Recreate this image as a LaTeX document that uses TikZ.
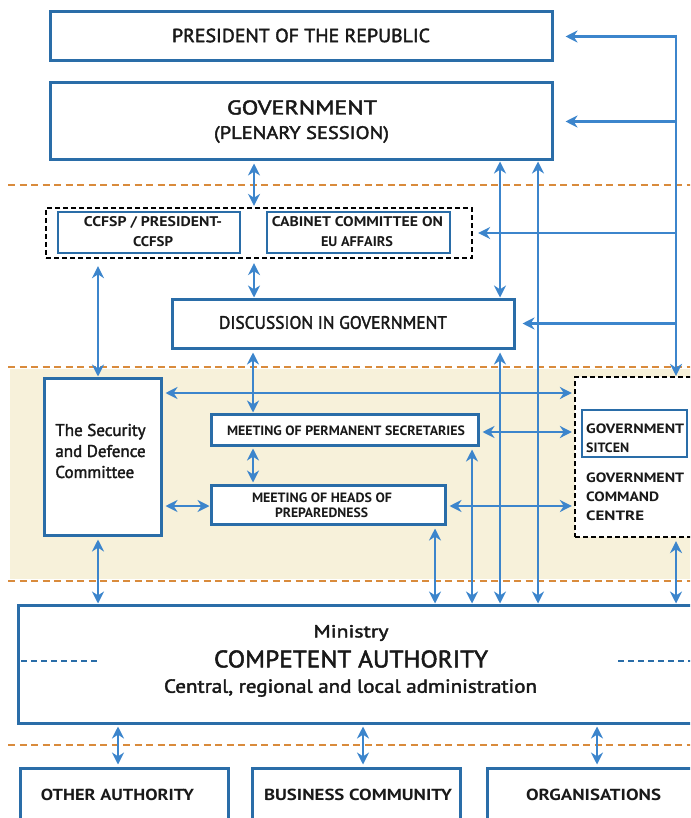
\documentclass[tikz,border=0pt]{standalone}
\usepackage{fontspec}
\setmainfont{PT Sans}
\newfontfamily\semib[FakeBold=2]{PT Sans}
\usepackage{graphicx}
\usetikzlibrary{arrows.meta}
\definecolor{boxblue}{HTML}{2A6DA8}
\definecolor{arrblue}{HTML}{3C85CC}
\definecolor{orng}{HTML}{D98B3C}
\definecolor{beige}{HTML}{F7F1DA}
\newcommand{\fw}[3]{\resizebox{#1pt}{\height}{\fontsize{#2}{#2}\selectfont #3}}
\tikzset{
  box/.style={draw=boxblue, line width=3pt, fill=white, inner sep=0pt},
  grpbox/.style={draw=black, line width=2.2pt, dash pattern=on 5pt off 3pt, inner sep=0pt},
  sep/.style={draw=orng, line width=2.6pt, dash pattern=on 7pt off 4.5pt},
  arr/.style={draw=arrblue, line width=2.2pt, {Stealth[length=12pt,width=12pt]}-{Stealth[length=12pt,width=12pt]}},
  arrone/.style={draw=arrblue, line width=2.2pt, -{Stealth[length=12pt,width=12pt]}},
  lbl/.style={inner sep=0pt, text=black!90},
}
\begin{document}
\begin{tikzpicture}[x=1pt,y=-1pt]
\useasboundingbox (0,0) rectangle (690,818);
\clip (0,0) rectangle (690,818);
% background band and separators
\fill[beige] (10,369) rectangle (700,579);
\draw[sep] (8,185) -- (700,185);
\draw[sep] (8,367) -- (700,367);
\draw[sep] (8,581) -- (700,581);
\draw[sep] (8,745) -- (700,745);

% boxes
\node[box, minimum width=502pt, minimum height=49pt] (pres) at (301,36.5) {};
\node[lbl] at (301,35.5) {\fw{258}{19}{\semib PRESIDENT OF THE REPUBLIC}};
\node[box, minimum width=502pt, minimum height=77pt] (gov) at (301,121.5) {};
\node[lbl] at (302,107.5) {\fw{150}{20}{\semib GOVERNMENT}};
\node[lbl] at (301.5,134.5) {\fw{175}{18}{\semib (PLENARY SESSION)}};

\node[grpbox, minimum width=426pt, minimum height=50pt] (grp) at (259,233) {};
\node[box, line width=2.4pt, minimum width=182pt, minimum height=41pt] (ccfsp) at (149,232.5) {};
\node[lbl] at (153,222) {\fw{138}{14}{\bfseries CCFSP / PRESIDENT-}};
\node[lbl] at (153,241.5) {\fw{40}{14}{\bfseries CCFSP}};
\node[box, line width=2.4pt, minimum width=183pt, minimum height=41pt] (cab) at (358.5,232.5) {};
\node[lbl] at (357.5,222) {\fw{171}{14}{\bfseries CABINET COMMITTEE ON}};
\node[lbl] at (357,241.5) {\fw{72}{14}{\bfseries EU AFFAIRS}};

\node[box, minimum width=342pt, minimum height=49pt] (disc) at (343,323.5) {};
\node[lbl] at (333,322.5) {\fw{228}{18}{\semib DISCUSSION IN GOVERNMENT}};

\node[box, minimum width=117pt, minimum height=157pt] (sec) at (102.5,456.5) {};
\node[lbl, align=left, font=\semib\fontsize{17}{21}\selectfont] at (100.5,451) {The Security\\and Defence\\Committee};

\node[box, minimum width=267pt, minimum height=31pt] (mps) at (344.5,429.5) {};
\node[lbl] at (346,431) {\fw{238}{13.5}{\bfseries MEETING OF PERMANENT SECRETARIES}};
\node[box, minimum width=234pt, minimum height=39pt] (mhp) at (328,504.5) {};
\node[lbl] at (322,497.5) {\fw{140}{13.5}{\bfseries MEETING OF HEADS OF}};
\node[lbl] at (321.5,512.5) {\fw{93}{13.5}{\bfseries PREPAREDNESS}};

\node[grpbox, fill=white, minimum width=126pt, minimum height=160pt] (gcc) at (638,457) {};
\node[box, line width=2.2pt, minimum width=105pt, minimum height=47pt] (sit) at (634.5,433.5) {};
\node[lbl, anchor=west] at (586,429) {\fw{98}{13.5}{\bfseries GOVERNMENT}};
\node[lbl, anchor=west] at (586,448) {\fw{43}{13.5}{\bfseries SITCEN}};
\node[lbl, anchor=west] at (586,478) {\fw{98}{13.5}{\bfseries GOVERNMENT}};
\node[lbl, anchor=west] at (586,497) {\fw{73}{13.5}{\bfseries COMMAND}};
\node[lbl, anchor=west] at (586,516) {\fw{58}{13.5}{\bfseries CENTRE}};

\node[box, minimum width=682pt, minimum height=118pt] (min) at (359,664) {};
\node[lbl] at (351,633) {\fw{75}{17.5}{\semib Ministry}};
\node[lbl] at (351,659) {\fw{274}{24}{\semib COMPETENT AUTHORITY}};
\node[lbl] at (350.5,688) {\fw{373}{19}{\semib Central, regional and local administration}};
\draw[boxblue, line width=1.8pt, dash pattern=on 6pt off 4pt] (21,661) -- (100,661);
\draw[boxblue, line width=1.8pt, dash pattern=on 6pt off 4pt] (618,661) -- (700,661);

\node[box, minimum width=208pt, minimum height=80pt] (oth) at (124,808) {};
\node[lbl] at (117.5,795) {\fw{153}{16}{\bfseries OTHER AUTHORITY}};
\node[box, minimum width=208pt, minimum height=80pt] (bus) at (356,808) {};
\node[lbl] at (358,795) {\fw{188}{16}{\bfseries BUSINESS COMMUNITY}};
\node[box, minimum width=213pt, minimum height=80pt] (org) at (593.5,808) {};
\node[lbl] at (593.5,795) {\fw{135}{16}{\bfseries ORGANISATIONS}};

% right trunk
\coordinate (tr) at (676,35);
\draw[arrone] (tr) -- (tr |- gcc.north);
\draw[arrone, shorten >=12pt] (tr |- pres.east) -- (pres.east);
\draw[arrone, shorten >=12pt] (tr |- gov.east) -- (gov.east);
\draw[arrone, shorten >=5pt] (tr |- grp.east) -- (grp.east);
\draw[arrone, shorten >=7pt] (tr |- disc.east) -- (disc.east);

% verticals to the right
\draw[arr] (gov.south -| 500,0) -- (disc.north -| 500,0);
\draw[arr, shorten <=3pt] (disc.south -| 500,0) -- (min.north -| 500,0);
\draw[arr] (gov.south -| 538,0) -- (min.north -| 538,0);

% central column
\draw[arr, shorten <=2pt, shorten >=1pt] (gov.south -| 254,0) -- (grp.north -| 254,0);
\draw[arr, shorten <=4pt] (grp.south -| 254,0) -- (disc.north -| 254,0);
\draw[arr, shorten <=3pt] (disc.south -| 253,0) -- (mps.north -| 253,0);
\draw[arr, shorten <=2pt, shorten >=1pt] (mps.south -| 253,0) -- (mhp.north -| 253,0);

% left column
\draw[arr, shorten <=12pt] (ccfsp.south -| 98,0) -- (sec.north -| 98,0);
\draw[arr, shorten <=3pt] (sec.south -| 98,0) -- (min.north -| 98,0);

% horizontals in the band
\draw[arr, shorten <=3pt, shorten >=2pt] (sec.east |- 0,393) -- (gcc.west |- 0,393);
\draw[arr, shorten <=3pt, shorten >=2pt] (mps.east |- 0,432) -- (gcc.west |- 0,432);
\draw[arr, shorten <=3pt] (sec.east |- 0,506) -- (mhp.west |- 0,506);
\draw[arr, shorten <=3pt, shorten >=2pt] (mhp.east |- 0,506) -- (gcc.west |- 0,506);

% down to ministry
\draw[arr, shorten <=3pt] (mhp.south -| 435,0) -- (min.north -| 435,0);
\draw[arr, shorten <=3pt] (mps.south -| 472,0) -- (min.north -| 472,0);
\draw[arr, shorten <=3pt] (gcc.south -| 676,0) -- (min.north -| 676,0);

% bottom
\draw[arr, shorten <=2pt, shorten >=2pt] (min.south -| 118,0) -- (oth.north -| 118,0);
\draw[arr, shorten <=2pt, shorten >=2pt] (min.south -| 363,0) -- (bus.north -| 363,0);
\draw[arr, shorten <=2pt, shorten >=2pt] (min.south -| 597,0) -- (org.north -| 597,0);
\end{tikzpicture}
\end{document}
